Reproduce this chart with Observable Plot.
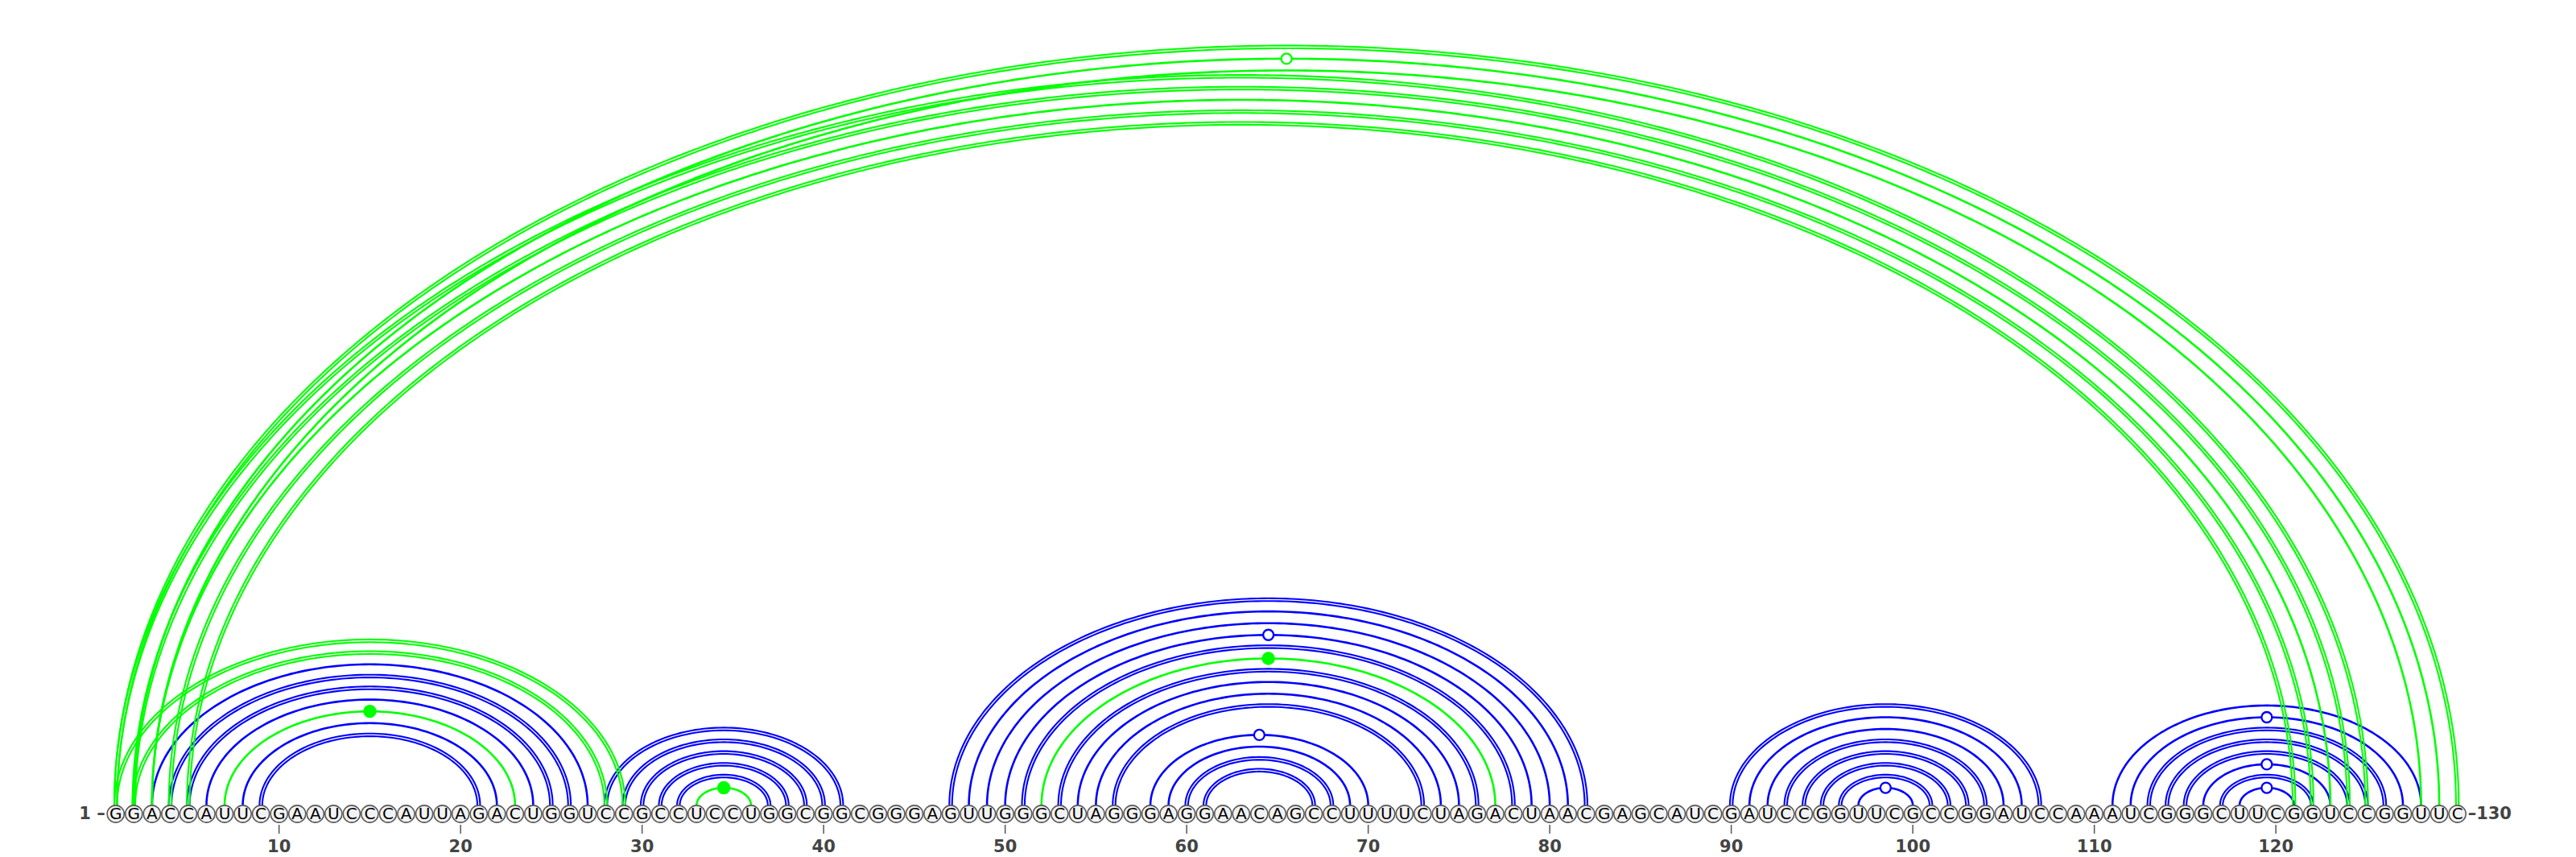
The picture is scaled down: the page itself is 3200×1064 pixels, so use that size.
<!DOCTYPE html>
<html><head><meta charset="utf-8">
<script src="https://cdn.jsdelivr.net/npm/d3@7"></script>
<script src="https://cdn.jsdelivr.net/npm/@observablehq/plot@0.6"></script>
<style>body{margin:0;background:#fff}#chart svg{display:block}</style>
</head><body><div id="chart"></div>
<script>
// ---- data ----
const sequence = ("GGACCAUUCG" + "AAUCCCAUUA" + "GACUGGUCCG" + "CCUCCUGGCG" + "GCGGGAGUUG" +
  "GGCUAGGGAG" + "GAACAGCCUU" + "UUCUAGACUA" + "ACGAGCAUCG" + "AUCCGGUUCG" +
  "CCGGAUCCAA" + "AUCGGGCUUC" + "GGUCCGGUUC").split("");
const tickPositions = [10, 20, 30, 40, 50, 60, 70, 80, 90, 100, 110, 120];

// base pairs: 5' position, 3' position, set (blue / green), number of strokes, apex marker
const pairStart = [3,4,5,6,8,9, 28,29,30,31,32, 47,48,49,50,51,53,54,55,56,58,59,60,61,
  90,91,92,93,94,95,96,97, 111,112,113,114,115,116,117,118,
  1,2,7,33,52, 1,2,3,1,2,3,4,5];
const pairEnd = [27,26,25,24,22,21, 41,40,39,38,37, 82,81,80,79,78,76,75,74,73,70,69,68,67,
  107,106,105,104,103,102,101,100, 128,127,126,125,124,123,122,121,
  29,28,23,36,77, 130,129,128,125,124,123,122,121];
const pairSet = ["b","b","b","b","b","b", "b","b","b","b","b",
  "b","b","b","b","b","b","b","b","b","b","b","b","b",
  "b","b","b","b","b","b","b","b", "b","b","b","b","b","b","b","b",
  "g","g","g","g","g", "g","g","g","g","g","g","g","g"];
const pairLines = [1,2,2,1,1,2, 2,2,2,2,2, 2,1,1,1,2,2,1,1,2,1,1,2,2,
  2,1,1,2,2,2,2,1, 1,1,2,2,2,1,2,1,
  2,2,1,1,1, 2,1,1,2,2,1,2,2];
const pairMark = ["","","","","","", "","","","","",
  "","","","open","","","","","","open","","","",
  "","","","","","","","open", "","open","","","","open","","open",
  "","","filled","filled","filled", "","open","","","","","",""];

// ---- layout ----
const W = 3200, H = 1064;
const pxPerNt = 22.55, pxPerY = 14.6;
const mLeft = 143.2, mRight = W - (mLeft + 129 * pxPerNt);
const mTop = 10, mBottom = 40;
const baselinePx = 999.5;
const yMin = -((H - mBottom) - baselinePx) / pxPerY;
const yMax = yMin + (H - mTop - mBottom) / pxPerY;
const yCircle = -10.5 / pxPerY;
const colors = {b: "#0000ff", g: "#00ff00"};

const arcPts = [];
const markers = [];
pairStart.forEach((s, k) => {
  const e = pairEnd[k];
  const c = (s + e) / 2, a = (e - s) / 2;
  const offs = pairLines[k] === 2 ? [-1.7, 1.7] : [0];
  offs.forEach((o, m) => {
    const ax = a + o / pxPerNt, ay = a + o / pxPerY;
    const n = Math.round(40 + a * 8);
    for (let q = 0; q <= n; q++) {
      const t = Math.PI * q / n;
      arcPts.push({key: k + "-" + m, set: pairSet[k], lines: pairLines[k],
        x: c - ax * Math.cos(t), y: ay * Math.sin(t)});
    }
  });
  if (pairMark[k]) markers.push({x: c, y: a, set: pairSet[k], mark: pairMark[k]});
});

const bases = sequence.map((b, i) => ({pos: i + 1, base: b}));
const sel = (set, lines) => arcPts.filter(d => d.set === set && d.lines === lines);

const chart = Plot.plot({
  width: W, height: H,
  marginLeft: mLeft, marginRight: mRight, marginTop: mTop, marginBottom: mBottom,
  style: {fontFamily: "DejaVu Sans, sans-serif", background: "#fff"},
  x: {domain: [1, 130], axis: null},
  y: {domain: [yMin, yMax], axis: null},
  marks: [
    Plot.line(sel("b", 1), {x: "x", y: "y", z: "key", stroke: colors.b, strokeWidth: 2.6}),
    Plot.line(sel("b", 2), {x: "x", y: "y", z: "key", stroke: colors.b, strokeWidth: 2.1}),
    Plot.line(sel("g", 1), {x: "x", y: "y", z: "key", stroke: colors.g, strokeWidth: 2.6}),
    Plot.line(sel("g", 2), {x: "x", y: "y", z: "key", stroke: colors.g, strokeWidth: 2.1}),
    Plot.dot(markers.filter(d => d.mark === "open" && d.set === "b"), {x: "x", y: "y", r: 6.5, fill: "#fff", stroke: colors.b, strokeWidth: 2.4}),
    Plot.dot(markers.filter(d => d.mark === "open" && d.set === "g"), {x: "x", y: "y", r: 6.5, fill: "#fff", stroke: colors.g, strokeWidth: 2.4}),
    Plot.dot(markers.filter(d => d.mark === "filled"), {x: "x", y: "y", r: 7.5, fill: colors.g, stroke: colors.g}),
    Plot.dot(bases, {x: "pos", y: () => yCircle, r: 10.6, fill: "#f2f2f2", stroke: "#5a5a5a", strokeWidth: 1.6}),
    Plot.text(bases, {x: "pos", y: () => yCircle, text: "base", fontSize: 20, fill: "#000"}),
    Plot.text([1], {x: d => d, y: () => yCircle, text: () => "1 \u2013", textAnchor: "end", dx: -13, fontSize: 21, fontWeight: 600, fill: "#444"}),
    Plot.text([130], {x: d => d, y: () => yCircle, text: () => "\u2013130", textAnchor: "start", dx: 13, fontSize: 21, fontWeight: 600, fill: "#444"}),
    Plot.axisX(tickPositions, {tickSize: 11, tickPadding: 8, fontSize: 21, fontWeight: 600, fill: "#444", stroke: "#555", strokeWidth: 1.5, label: null})
  ]
});
document.getElementById("chart").append(chart);
</script>
</body></html>
